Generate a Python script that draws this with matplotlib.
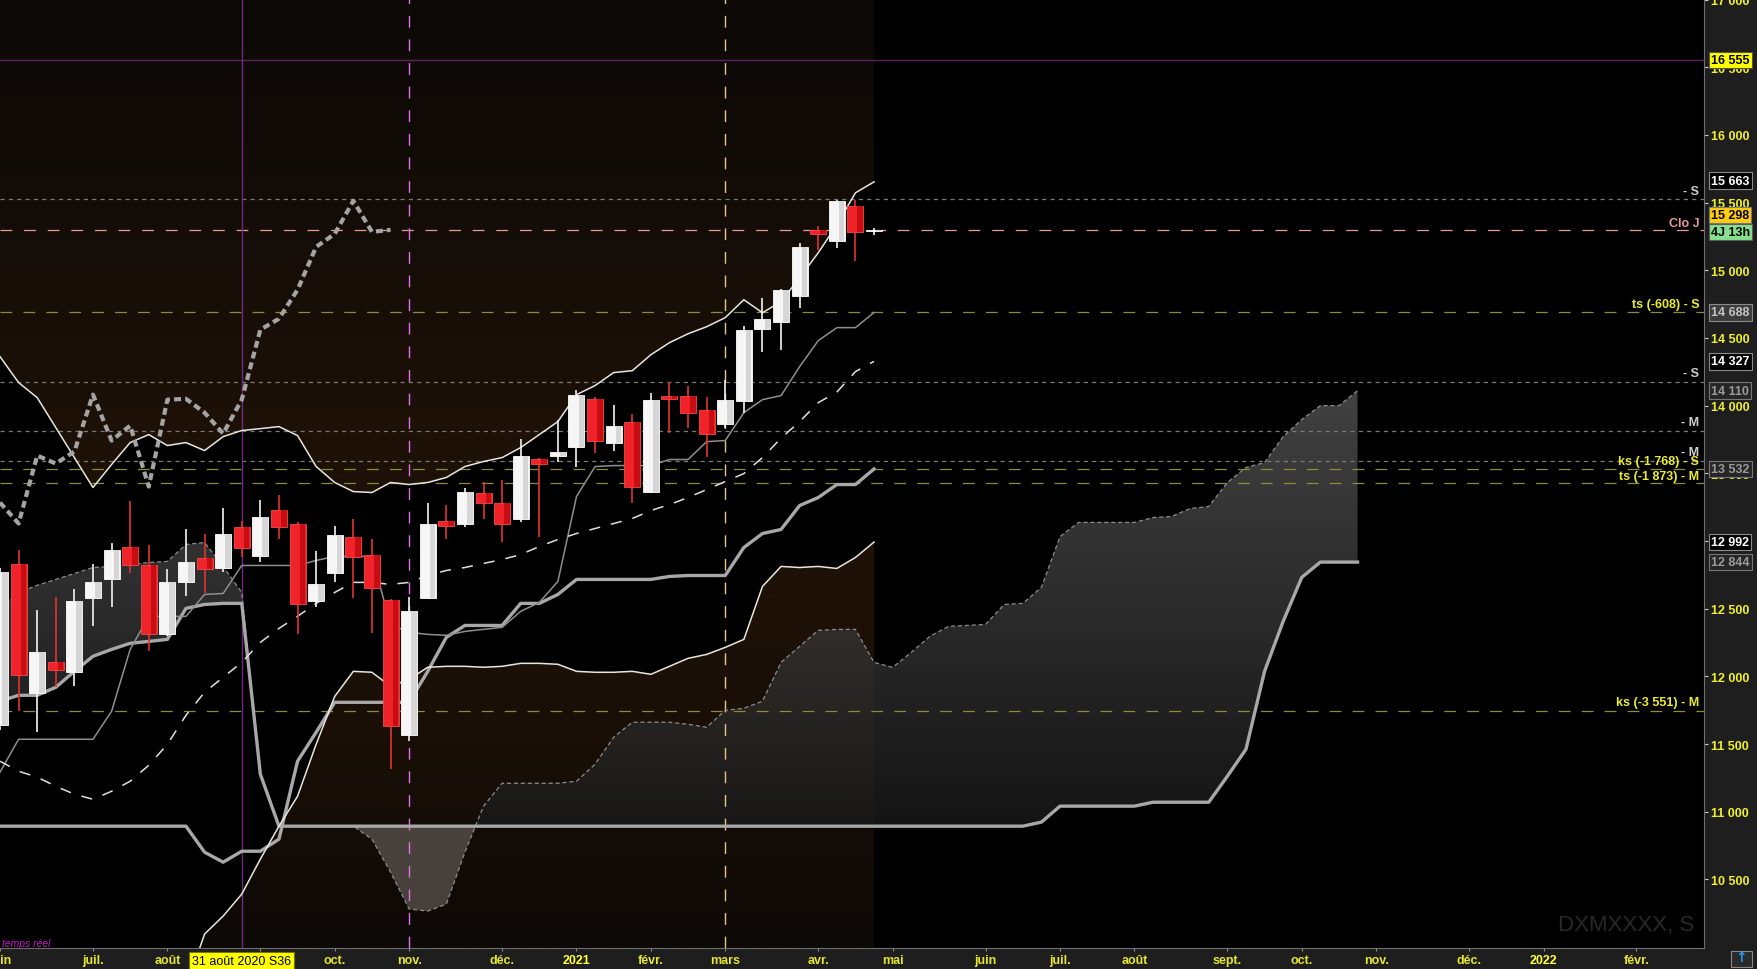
import matplotlib
matplotlib.use('Agg')
import matplotlib.pyplot as plt
import numpy as np
import pandas as pd
from matplotlib import font_manager
from matplotlib.path import Path
from matplotlib.transforms import blended_transform_factory

plt.rcParams['lines.scale_dashes'] = False

# narrow font if there is one, else Arial-like
_installed = {f.name for f in font_manager.fontManager.ttflist}
NARROW = [n for n in ('Liberation Sans Narrow', 'Arial Narrow', 'Liberation Sans', 'DejaVu Sans')
          if n in _installed] or ['DejaVu Sans']
IS_NARROW = 'Narrow' in NARROW[0]
FS = 9.5 if IS_NARROW else 9.0

# weekly bars, bar 0 = week of 2020-06-01
weeks = pd.date_range('2020-06-01', '2022-03-28', freq='W-MON')

# candles (48 weeks, 2020-06-01 .. 2021-04-26)
opens = [11638, 12827, 11875, 12103, 12030, 12576, 12716, 12952, 12819, 12310, 12694, 12871,
         12804, 13100, 12886, 13232, 13129, 12553, 12760, 13033, 12900, 12561, 11565, 12576,
         13151, 13129, 13358, 13277, 13166, 13602, 13631, 13697, 14052, 13727, 13882, 13365,
         14070, 14074, 13970, 13867, 14037, 14568, 14620, 14812, 15299, 15218, 15476, 15290]
highs = [12800, 12930, 12487, 12583, 12642, 12827, 12982, 13292, 12967, 12790, 13092, 13055,
         13240, 13150, 13306, 13336, 13140, 12923, 13107, 13159, 13011, 12570, 12583, 13284,
         13269, 13395, 13439, 13447, 13756, 13615, 13897, 14118, 14060, 14007, 13941, 14096,
         14177, 14148, 14066, 14192, 14590, 14797, 14863, 15203, 15328, 15520, 15520, 15310]
lows = [11600, 11742, 11587, 11919, 11926, 12369, 12509, 12760, 12185, 12295, 12590, 12613,
        12768, 12880, 12841, 13018, 12310, 12509, 12694, 12576, 12317, 11314, 11520, 12568,
        13011, 13100, 13166, 12989, 13137, 13026, 13587, 13550, 13653, 13668, 13284, 13351,
        13801, 13838, 13624, 13838, 13948, 14398, 14413, 14723, 15151, 15166, 15070, 15260]
closes = [12768, 12007, 12177, 12044, 12553, 12694, 12937, 12819, 12310, 12694, 12841, 12790,
          13048, 12945, 13174, 13100, 12531, 12679, 13041, 12878, 12649, 11631, 12480, 13122,
          13107, 13365, 13284, 13129, 13631, 13572, 13661, 14081, 13742, 13852, 13402, 14044,
          14050, 13948, 13793, 14044, 14561, 14642, 14856, 15173, 15269, 15513, 15284, 15298]

# bollinger bands
bb_upper = [14362, 14170, 14059, 13838, 13616, 13395, 13565, 13727, 13786, 13705, 13727, 13668,
            13771, 13816, 13830, 13845, 13779, 13550, 13432, 13365, 13358, 13432, 13417, 13432,
            13469, 13550, 13587, 13616, 13690, 13786, 13882, 14081, 14148, 14244, 14258, 14376,
            14465, 14531, 14583, 14650, 14782, 14686, 14768, 14945, 15129, 15336, 15572, 15653]
bb_mid = [11373, 11299, 11255, 11188, 11129, 11092, 11151, 11225, 11343, 11498, 11712, 11882,
          11993, 12103, 12251, 12354, 12443, 12539, 12620, 12694, 12694, 12679, 12694, 12745,
          12782, 12804, 12834, 12863, 12900, 12959, 13011, 13055, 13092, 13129, 13166, 13225,
          13269, 13321, 13380, 13439, 13498, 13616, 13760, 13882, 14022, 14100, 14251, 14327]
bb_lower = [8400, 8430, 8450, 8540, 8640, 8790, 8740, 8720, 8900, 9290, 9700, 10096,
            10229, 10391, 10650, 10893, 11114, 11498, 11852, 12037, 12030, 11926, 11978, 12067,
            12074, 12074, 12067, 12074, 12096, 12096, 12089, 12037, 12030, 12030, 12037, 12015,
            12074, 12133, 12162, 12214, 12273, 12664, 12812, 12804, 12812, 12797, 12878, 12992]

# ichimoku
tenkan = [11292, 11535, 11535, 11535, 11535, 11535, 11742, 12199, 12443, 12443, 12443, 12605,
          12612, 12819, 12819, 12819, 12819, 12856, 12886, 12886, 12886, 12384, 12325, 12310,
          12303, 12332, 12347, 12362, 12480, 12546, 12701, 13328, 13550, 13557, 13557, 13557,
          13602, 13602, 13734, 13742, 13948, 14044, 14074, 14288, 14480, 14576, 14576, 14688]
kijun = [10893, 10893, 10893, 10893, 10893, 10893, 10893, 10893, 10893, 10893, 10893, 10701,
         10627, 10708, 10708, 10797, 11373, 11587, 11808, 11808, 11808, 11808, 11808, 12037,
         12288, 12376, 12376, 12376, 12539, 12539, 12605, 12716, 12716, 12716, 12716, 12716,
         12738, 12745, 12745, 12745, 12952, 13055, 13085, 13262, 13321, 13417, 13417, 13532]
senkou_a = [12509, 12620, 12672, 12716, 12760, 12804, 12812, 12827, 12841, 12849, 12974, 12989,
            12812, 12620, 11277, 10893, 10893, 10893, 10893, 10893, 10797, 10554, 10281, 10266,
            10317, 10701, 11041, 11210, 11210, 11210, 11210, 11225, 11351, 11550, 11661, 11661,
            11661, 11646, 11624, 11749, 11764, 11816, 12103, 12222, 12340, 12347, 12347, 12103,
            12066, 12177, 12295, 12369, 12376, 12384, 12531, 12539, 12657, 13033, 13137, 13137,
            13137, 13137, 13173, 13181, 13240, 13255, 13432, 13543, 13579, 13771, 13897, 14000,
            14000, 14110]
senkou_b = [11816, 11860, 11860, 11919, 12037, 12148, 12199, 12244, 12258, 12273, 12502, 12531,
            12539, 12539, 11277, 10893, 10893, 10893, 10893, 10893, 10893, 10893, 10893, 10893,
            10893, 10893, 10893, 10893, 10893, 10893, 10893, 10893, 10893, 10893, 10893, 10893,
            10893, 10893, 10893, 10893, 10893, 10893, 10893, 10893, 10893, 10893, 10893, 10893,
            10893, 10893, 10893, 10893, 10893, 10893, 10893, 10893, 10923, 11041, 11041, 11041,
            11041, 11041, 11070, 11070, 11070, 11070, 11262, 11461, 12037, 12406, 12731, 12844,
            12844, 12844]
CHIKOU_SHIFT = 26

# horizontal levels: (value, colour, style, right-hand text, text y, text colour)
levels = [
    (15524, '#7a7a7a', (0, (3, 3)), '- S', 15587, '#d0d0d0'),
    (15295, '#e89a9a', (0, (8.5, 8.5)), 'Clo J', 15351, '#e89a9a'),
    (14690, '#8c8c38', (0, (8.5, 8)), 'ts (-608) - S', 14753, '#ecec2c'),
    (14177, '#7a7a7a', (0, (3, 3)), '- S', 14244, '#d0d0d0'),
    (13815, '#7a7a7a', (0, (3, 3)), '- M', 13882, '#d0d0d0'),
    (13590, '#7a7a7a', (0, (3, 3)), '- M', 13661, '#d0d0d0'),
    (13530, '#8c8c38', (0, (8.5, 8)), 'ks (-1 768) - S', 13594, '#ecec2c'),
    (13425, '#8c8c38', (0, (8.5, 8)), 'ts (-1 873) - M', 13483, '#ecec2c'),
    (11747, '#8c8c38', (0, (8.5, 8)), 'ks (-3 551) - M', 11808, '#ecec2c'),
]

# boxes on the price scale: (text, y, face, text colour, edge)
scale_boxes = [
    ('16 555', 16555, '#ffff00', '#000000', '#555555'),
    ('15 663', 15663, '#000000', '#ffffff', '#8a8a8a'),
    ('15 298', 15410, '#ffcc10', '#000000', '#777777'),
    ('4J 13h', 15284, '#86e08e', '#000000', '#5a5a5a'),
    ('14 688', 14688, '#3c3c3c', '#c4c4c4', '#8a8a8a'),
    ('14 327', 14327, '#000000', '#ffffff', '#8a8a8a'),
    ('14 110', 14110, '#262626', '#9a9a9a', '#777777'),
    ('13 532', 13532, '#262626', '#9a9a9a', '#777777'),
    ('12 992', 12992, '#000000', '#ffffff', '#8a8a8a'),
    ('12 844', 12844, '#262626', '#9a9a9a', '#777777'),
]

FR_MONTHS = {1: 'janv.', 2: 'févr.', 3: 'mars', 4: 'avr.', 5: 'mai', 6: 'juin', 7: 'juil.',
             8: 'août', 9: 'sept.', 10: 'oct.', 11: 'nov.', 12: 'déc.'}

Y_MIN, Y_MAX = 9993, 17004
X_MIN, X_MAX = 0.022, 91.63


def gradient_patch(ax, paths, stops, alpha, zorder):
    v = np.linspace(Y_MIN, Y_MAX, 512)
    sv = [s[0] for s in stops]
    rgb = np.column_stack([np.interp(v, sv, [s[1][k] for s in stops]) for k in range(3)]) / 255.0
    rgba = np.column_stack([rgb, np.full(len(v), alpha)])[:, None, :]
    im = ax.imshow(rgba, extent=(X_MIN, X_MAX, Y_MIN, Y_MAX), origin='lower', aspect='auto',
                   interpolation='bilinear', zorder=zorder)
    im.set_clip_path(Path.make_compound_path(*paths), ax.transData)


fig = plt.figure(figsize=(17.57, 9.70), dpi=100, facecolor='#1e1e1e')
ax = fig.add_axes([0, 21 / 970, 1704 / 1757, 949 / 970])
ax.set_facecolor('#000000')

xc = np.arange(len(closes), dtype=float)
xs = np.arange(len(senkou_a), dtype=float)
o, h, l, c = (np.array(a, dtype=float) for a in (opens, highs, lows, closes))
sa, sb = np.array(senkou_a, float), np.array(senkou_b, float)

# brown zones outside the bollinger bands
p1 = ax.fill_between(xc, bb_upper, Y_MAX, facecolor='none', edgecolor='none')
p2 = ax.fill_between(xc, Y_MIN - 500, bb_lower, facecolor='none', edgecolor='none')
brown = [(Y_MIN, (13, 9, 6)), (11500, (25, 15, 7)), (12500, (29, 17, 8)), (13800, (29, 17, 8)),
         (15200, (21, 13, 7)), (Y_MAX, (11, 8, 6))]
gradient_patch(ax, list(p1.get_paths()) + list(p2.get_paths()), brown, 1.0, 0.5)
p1.remove()
p2.remove()

# kumo
pc = ax.fill_between(xs, sa, sb, where=sa >= sb, interpolate=True, facecolor='none', edgecolor='none')
grey = [(Y_MIN, (22, 22, 22)), (10900, (28, 28, 28)), (14100, (88, 88, 88)), (Y_MAX, (94, 94, 94))]
gradient_patch(ax, pc.get_paths(), grey, 0.75, 1)
pc.remove()
ax.fill_between(xs, sa, sb, where=sa < sb, interpolate=True, facecolor='#5c544e', alpha=0.75,
                edgecolor='none', zorder=1)

# level lines
for val, col, ls, txt, ty, tcol in levels:
    ax.axhline(val, color=col, lw=0.9, ls=ls, zorder=2)
    ax.text(0.9972, ty, txt, transform=blended_transform_factory(ax.transAxes, ax.transData),
            ha='right', va='center', color=tcol, fontsize=FS, fontweight='bold', family=NARROW,
            zorder=9)
ax.axhline(16555, color='#5e2060', lw=1.0, zorder=2)

# vertical markers
ax.axvline(13, color='#6e2a7c', lw=1.0, zorder=2)
ax.axvline(22, color='#e070e8', lw=1.0, ls=(0, (8.5, 8.5)), zorder=2)
ax.axvline(39, color='#e8c488', lw=1.0, ls=(0, (8.5, 8.5)), zorder=2)

# ichimoku / bollinger lines
ax.plot(xs, sa, color='#8c8c8c', lw=0.9, ls=(0, (3, 2)), zorder=3)
ax.plot(xs, sb, color='#a8a8a8', lw=2.4, zorder=3, solid_joinstyle='round')
ax.plot(xc, kijun, color='#a8a8a8', lw=2.4, zorder=3, solid_joinstyle='round')
ax.plot(xc, tenkan, color='#8e8e8e', lw=1.1, zorder=3)
ax.plot(xc, bb_upper, color='#e8e6dc', lw=1.1, zorder=3)
ax.plot(xc, bb_lower, color='#e8e6dc', lw=1.1, zorder=3)
ax.plot(xc, bb_mid, color='#e0e0e0', lw=1.1, ls=(0, (8, 8)), zorder=3)
ax.plot(xc[:-CHIKOU_SHIFT], c[CHIKOU_SHIFT:], color='#a4a4a4', lw=3.0, ls=(0, (5, 3)),
        dash_capstyle='butt', zorder=3)

# candles, with a darker right third to mimic the shaded bodies
up = c >= o
body_lo = np.minimum(o, c)
body_h = np.maximum(np.abs(c - o), 8)
ax.vlines(xc[up], l[up], h[up], color='#f4f4f4', lw=1.2, zorder=5)
ax.vlines(xc[~up], l[~up], h[~up], color='#e23232', lw=1.2, zorder=5)
ax.bar(xc[up], body_h[up], bottom=body_lo[up], width=0.86, color='#f6f6f6',
       edgecolor='#ffffff', lw=0.6, zorder=6)
ax.bar(xc[~up], body_h[~up], bottom=body_lo[~up], width=0.86, color='#f0222a',
       edgecolor='#f24848', lw=0.6, zorder=6)
ax.bar(xc[up] + 0.26, body_h[up], bottom=body_lo[up], width=0.3, color='#d6d6d6',
       lw=0, zorder=6.1)
ax.bar(xc[~up] + 0.26, body_h[~up], bottom=body_lo[~up], width=0.3, color='#c80d12',
       lw=0, zorder=6.1)

ax.set_xlim(X_MIN, X_MAX)
ax.set_ylim(Y_MIN, Y_MAX)

# price scale
for s in ('top', 'left'):
    ax.spines[s].set_visible(False)
for s in ('right', 'bottom'):
    ax.spines[s].set_color('#6e6e6e')
ax.yaxis.tick_right()
yt = np.arange(10500, 17001, 500)
ax.set_yticks(yt)
ax.set_yticklabels([f'{v:,}'.replace(',', ' ') for v in yt])
ax.tick_params(axis='y', direction='out', length=2.9, width=0.8, color='#c8c8c8', pad=2.2,
               labelcolor='#f0f02a', labelsize=FS)
for t in ax.get_yticklabels():
    t.set_fontfamily(NARROW)
    t.set_fontweight('bold')

ytrans = blended_transform_factory(ax.transAxes, ax.transData)
for txt, yv, fc, tc, ec in scale_boxes:
    ax.annotate(txt, xy=(1, yv), xycoords=ytrans, xytext=(7, 0), textcoords='offset pixels',
                ha='left', va='center', color=tc, fontsize=FS, fontweight='bold', family=NARROW,
                annotation_clip=False, zorder=20,
                bbox=dict(boxstyle='square,pad=0.18', fc=fc, ec=ec, lw=0.8))

# time scale: first Monday of each month
pos, labs = [], []
for k, d in enumerate(weeks):
    if k > X_MAX:
        break
    if k == 0 or d.month != weeks[k - 1].month:
        pos.append(k)
        labs.append(str(d.year) if d.month == 1 else FR_MONTHS[d.month])
ax.set_xticks(pos)
ax.set_xticklabels(labs)
ax.tick_params(axis='x', direction='out', length=2.2, width=0.8, color='#8a8a8a', pad=2.3,
               labelcolor='#e6e62e', labelsize=FS)
for t in ax.get_xticklabels():
    t.set_fontfamily(NARROW)
    t.set_fontweight('bold')
    if t.get_text().isdigit():
        t.set_color('#ffff3a')

xtrans = blended_transform_factory(ax.transData, ax.transAxes)
ax.text(13, -0.0137, '31 août 2020 S36', transform=xtrans, ha='center', va='center',
        color='#000000', fontsize=FS, family=NARROW, zorder=20, clip_on=False,
        bbox=dict(boxstyle='square,pad=0.25', fc='#ffff00', ec='#777700', lw=0.8))

# misc texts
ax.text(0.9942, 0.0248, 'DXMXXXX, S', transform=ax.transAxes, ha='right', va='center',
        color='#282828', fontsize=16, family=['Liberation Sans', 'DejaVu Sans'], zorder=9)
fig.text(2 / 1757, 1 - 944 / 970, 'temps réel', ha='left', va='center', color='#c41cc4',
         fontsize=7.5, style='italic', family=['Liberation Sans', 'DejaVu Sans'])
fig.patches.append(plt.Rectangle((1731 / 1757, 2 / 970), 21 / 1757, 16 / 970, transform=fig.transFigure,
                                 fc='#2a2a2a', ec='#8a8a8a', lw=0.8))
fig.text(1741.5 / 1757, 1 - 958 / 970, '↑', ha='center', va='center', color='#1e9bff',
         fontsize=10, fontweight='bold')

fig.savefig('out.png', dpi=100, facecolor=fig.get_facecolor())
